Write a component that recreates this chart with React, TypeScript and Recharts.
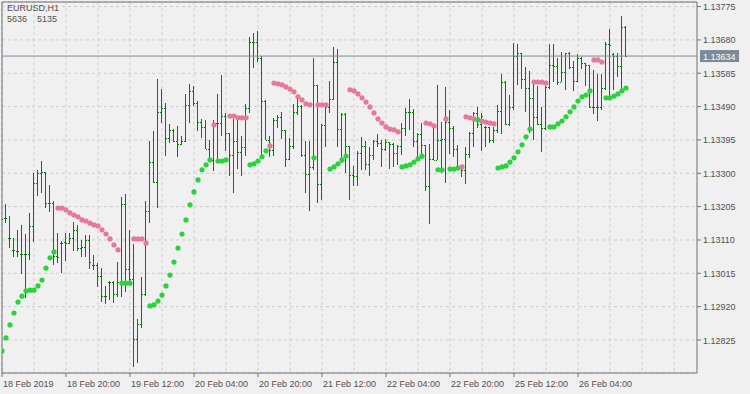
import React from 'react'
import { ComposedChart, Bar, Scatter, XAxis, YAxis, CartesianGrid, ReferenceLine, ReferenceArea } from 'recharts'

const symbol = 'EURUSD,H1'
const counters = ['5636', '5135']

const opens = [
  1.13173, 1.13173, 1.13116, 1.13082, 1.13079, 1.1307, 1.1307, 1.1307, 1.1315, 1.13272,
  1.13301, 1.13304, 1.13215, 1.13215, 1.13064, 1.13101, 1.13104, 1.13101, 1.13116, 1.13139,
  1.13087, 1.1309, 1.1311, 1.13039, 1.13039, 1.13007, 1.1295, 1.1299, 1.1299, 1.12956,
  1.12987, 1.13213, 1.13027, 1.12999, 1.12828, 1.12871, 1.12956, 1.13193, 1.13332, 1.13275,
  1.13475, 1.13486, 1.13401, 1.13424, 1.13392, 1.13384, 1.13392, 1.13495, 1.13535, 1.135,
  1.13446, 1.13432, 1.13369, 1.13338, 1.13443, 1.13443, 1.13463, 1.13415, 1.13352, 1.13392,
  1.13361, 1.13375, 1.13486, 1.13674, 1.13674, 1.13629, 1.13506, 1.13395, 1.13367, 1.13452,
  1.13461, 1.13424, 1.13341, 1.13378, 1.13475, 1.13492, 1.13352, 1.13298, 1.13318, 1.13552,
  1.1327, 1.13438, 1.13489, 1.13512, 1.13617, 1.13426, 1.13469, 1.13378, 1.13295, 1.13292,
  1.13358, 1.13378, 1.13327, 1.13352, 1.13392, 1.13386, 1.13369, 1.13389, 1.13384, 1.13358,
  1.13378, 1.13429, 1.13475, 1.13475, 1.13392, 1.13412, 1.13381, 1.13264, 1.13341, 1.13338,
  1.13395, 1.13398, 1.13446, 1.13429, 1.13369, 1.13315, 1.1331, 1.13355, 1.13415, 1.13472,
  1.13441, 1.13432, 1.13432, 1.13395, 1.13424, 1.13478, 1.1356, 1.13441, 1.13489, 1.13634,
  1.13643, 1.13569, 1.13543, 1.13515, 1.13461, 1.13441, 1.13429, 1.13546, 1.13609, 1.13606,
  1.1356, 1.13589, 1.13643, 1.13603, 1.13563, 1.13629, 1.13614, 1.13609, 1.13489, 1.13489,
  1.13489, 1.13543, 1.13669, 1.1364, 1.13634, 1.13606, 1.13717,
]

const highs = [
  1.1321, 1.13213, 1.13178, 1.13116, 1.13139, 1.13153, 1.13127, 1.13187, 1.13301, 1.1331,
  1.13335, 1.13304, 1.13267, 1.13221, 1.1313, 1.13107, 1.1313, 1.1313, 1.13161, 1.13153,
  1.1311, 1.13124, 1.13124, 1.13067, 1.13044, 1.1303, 1.12979, 1.12993, 1.12993, 1.13047,
  1.13233, 1.13241, 1.13139, 1.13099, 1.12885, 1.13005, 1.13221, 1.13392, 1.13421, 1.13569,
  1.1354, 1.135, 1.13441, 1.13426, 1.13435, 1.13406, 1.13526, 1.13555, 1.13549, 1.13506,
  1.13455, 1.13452, 1.13395, 1.13452, 1.13526, 1.1358, 1.13472, 1.13415, 1.13455, 1.13458,
  1.13406, 1.13498, 1.13689, 1.137, 1.13706, 1.13634, 1.13509, 1.13406, 1.13458, 1.13466,
  1.13475, 1.13424, 1.13401, 1.13498, 1.13512, 1.13495, 1.13392, 1.13392, 1.13629, 1.13552,
  1.13441, 1.13495, 1.13563, 1.1366, 1.13654, 1.13472, 1.13472, 1.13378, 1.13321, 1.13364,
  1.13404, 1.13392, 1.13375, 1.13395, 1.13412, 1.13395, 1.13398, 1.13389, 1.13386, 1.13381,
  1.13443, 1.13486, 1.13512, 1.13483, 1.13415, 1.13443, 1.13381, 1.13384, 1.13432, 1.13552,
  1.13446, 1.13546, 1.13481, 1.13435, 1.13381, 1.13318, 1.13375, 1.13418, 1.13475, 1.13489,
  1.13472, 1.13435, 1.13432, 1.13432, 1.13495, 1.13583, 1.13563, 1.13523, 1.13671, 1.13669,
  1.13643, 1.13603, 1.13592, 1.13563, 1.13549, 1.13489, 1.13549, 1.13669, 1.13669, 1.13629,
  1.13646, 1.13643, 1.13646, 1.1362, 1.1364, 1.13632, 1.13614, 1.13609, 1.13595, 1.13583,
  1.13583, 1.13674, 1.13711, 1.13643, 1.13643, 1.13748, 1.1372,
]

const lows = [
  1.13161, 1.13158, 1.13087, 1.13062, 1.13062, 1.13013, 1.12945, 1.13053, 1.13104, 1.13235,
  1.13244, 1.13201, 1.1319, 1.13039, 1.13044, 1.13016, 1.1305, 1.13099, 1.13079, 1.13079,
  1.13062, 1.13062, 1.13027, 1.13025, 1.12976, 1.12933, 1.12928, 1.12939, 1.1293, 1.12948,
  1.12948, 1.12962, 1.12982, 1.12748, 1.12759, 1.12859, 1.1295, 1.13158, 1.13272, 1.13201,
  1.13443, 1.13349, 1.13386, 1.13389, 1.13347, 1.13381, 1.13389, 1.13443, 1.13492, 1.13421,
  1.13401, 1.13369, 1.13335, 1.13307, 1.13332, 1.13406, 1.13364, 1.13292, 1.13244, 1.13312,
  1.13292, 1.13349, 1.13472, 1.136, 1.13617, 1.13349, 1.13395, 1.13347, 1.13349, 1.13429,
  1.13398, 1.13318, 1.13338, 1.13369, 1.13466, 1.13347, 1.13244, 1.13193, 1.1331, 1.13215,
  1.13224, 1.13375, 1.13472, 1.13509, 1.13375, 1.13329, 1.13301, 1.13224, 1.13264, 1.13264,
  1.1331, 1.1331, 1.13292, 1.13338, 1.13375, 1.13318, 1.13364, 1.13312, 1.13318, 1.13324,
  1.13352, 1.13406, 1.13424, 1.13375, 1.13347, 1.13341, 1.1325, 1.13156, 1.13338, 1.13338,
  1.13301, 1.13272, 1.13355, 1.13347, 1.1331, 1.1329, 1.1327, 1.13344, 1.13375, 1.13429,
  1.13364, 1.13375, 1.13386, 1.13386, 1.13415, 1.13412, 1.13438, 1.13435, 1.13481, 1.13552,
  1.1354, 1.13475, 1.13415, 1.13395, 1.13438, 1.13361, 1.13424, 1.1354, 1.1356, 1.13552,
  1.1356, 1.13538, 1.13597, 1.13535, 1.1356, 1.13597, 1.13549, 1.13486, 1.13469, 1.13449,
  1.13481, 1.13538, 1.13515, 1.13538, 1.13575, 1.13529, 1.13632,
]

const closes = [
  1.1317, 1.13173, 1.13116, 1.13082, 1.13079, 1.1307, 1.1307, 1.1315, 1.13272, 1.13301,
  1.13304, 1.13215, 1.13215, 1.13064, 1.13062, 1.13101, 1.13101, 1.13116, 1.13139, 1.13087,
  1.1309, 1.1311, 1.13047, 1.13039, 1.13007, 1.1295, 1.1295, 1.1299, 1.12956, 1.1299,
  1.13213, 1.13027, 1.12999, 1.12828, 1.12871, 1.12956, 1.13193, 1.13332, 1.13275, 1.13475,
  1.13486, 1.13401, 1.13424, 1.13392, 1.13384, 1.13392, 1.13495, 1.13535, 1.135, 1.13446,
  1.13432, 1.13369, 1.13338, 1.13443, 1.13443, 1.13463, 1.13415, 1.13352, 1.13392, 1.13361,
  1.13375, 1.13486, 1.13674, 1.13674, 1.13629, 1.13506, 1.13395, 1.13367, 1.13452, 1.13461,
  1.13424, 1.13341, 1.13378, 1.13475, 1.13492, 1.13352, 1.13298, 1.13318, 1.13552, 1.1327,
  1.13438, 1.13489, 1.13512, 1.13617, 1.13426, 1.13469, 1.13378, 1.13295, 1.13292, 1.13358,
  1.13378, 1.13327, 1.13352, 1.13392, 1.13386, 1.13369, 1.13389, 1.13384, 1.13358, 1.13378,
  1.13429, 1.13475, 1.13475, 1.13392, 1.13412, 1.13381, 1.13264, 1.13341, 1.13338, 1.13395,
  1.13398, 1.13446, 1.13429, 1.13369, 1.13315, 1.1331, 1.13355, 1.13415, 1.13472, 1.13441,
  1.13463, 1.13432, 1.13395, 1.13424, 1.13478, 1.1356, 1.13441, 1.13489, 1.13634, 1.13643,
  1.13569, 1.13543, 1.13515, 1.13461, 1.13441, 1.13429, 1.13546, 1.13609, 1.13606, 1.1356,
  1.13589, 1.13643, 1.13603, 1.13563, 1.13629, 1.13614, 1.13609, 1.13489, 1.13489, 1.13489,
  1.13543, 1.13669, 1.13666, 1.13634, 1.13606, 1.13717, 1.13634,
]

// parabolic SAR, one value per bar
const sar = [
  1.12794, 1.12831, 1.12868, 1.12902, 1.12933, 1.1295, 1.12965, 1.12967, 1.12967, 1.12979,
  1.12996, 1.1303, 1.13059, 1.13076, 1.13201, 1.13201, 1.13196, 1.13187, 1.13181, 1.13176,
  1.13167, 1.13164, 1.13158, 1.13153, 1.1315, 1.13139, 1.13127, 1.13113, 1.13096, 1.13082,
  1.12987, 1.12987, 1.12987, 1.13113, 1.13113, 1.13113, 1.13101, 1.12922, 1.12925, 1.12936,
  1.12953, 1.12979, 1.1301, 1.13047, 1.13087, 1.13127, 1.13167, 1.1321, 1.13247, 1.13281,
  1.1331, 1.13324, 1.13338, 1.13438, 1.13335, 1.13335, 1.13338, 1.13463, 1.13463, 1.13458,
  1.13458, 1.13458, 1.13324, 1.13327, 1.13335, 1.13347, 1.13364, 1.13378, 1.13557, 1.13555,
  1.13552, 1.13546, 1.1354, 1.13532, 1.13518, 1.13509, 1.13498, 1.13495, 1.13344, 1.13495,
  1.13495, 1.13495, 1.13312, 1.13318, 1.13327, 1.13338, 1.13349, 1.13538, 1.13535, 1.13526,
  1.13515, 1.13503, 1.13489, 1.13472, 1.13455, 1.13443, 1.13432, 1.13426, 1.13424, 1.13418,
  1.13318, 1.13321, 1.13324, 1.13332, 1.13341, 1.13349, 1.13443, 1.13441, 1.13435, 1.1331,
  1.1331, 1.13455, 1.13312, 1.13312, 1.13315, 1.13318, 1.13461, 1.13458, 1.13455, 1.13452,
  1.13449, 1.13446, 1.13443, 1.13441, 1.13315, 1.13318, 1.13321, 1.13332, 1.13344, 1.13361,
  1.13381, 1.13404, 1.13426, 1.1356, 1.1356, 1.1356, 1.13557, 1.13432, 1.13432, 1.13441,
  1.13449, 1.13461, 1.13475, 1.13489, 1.13506, 1.13518, 1.13523, 1.13535, 1.13623, 1.13623,
  1.13617, 1.13515, 1.13515, 1.1352, 1.13526, 1.13535, 1.13543,
]

const timeLabels = [
  '18 Feb 2019', '18 Feb 20:00', '19 Feb 12:00', '20 Feb 04:00', '20 Feb 20:00',
  '21 Feb 12:00', '22 Feb 04:00', '22 Feb 20:00', '25 Feb 12:00', '26 Feb 04:00',
]
const timeTicks = timeLabels.map((_, k) => k * 16)
const priceTicks = [1.12825, 1.1292, 1.13015, 1.1311, 1.13205, 1.133, 1.13395, 1.1349, 1.13585, 1.1368, 1.13775]

const xMax = 173.75
const yMin = 1.12731
const yMax = 1.13788
const lastPrice = closes[closes.length - 1]

const barColor = '#008000'
const font = '"Liberation Sans", Arial, sans-serif'
const textColor = '#505050'

const data = closes.map((close, i) => ({
  i,
  open: opens[i],
  high: highs[i],
  low: lows[i],
  close,
  sar: sar[i],
}))

const OhlcShape = (props: any) => {
  const { x, y, width, height, payload } = props
  if (!payload || y == null || height == null) return null
  const top = Math.min(y, y + height)
  const span = Math.abs(height)
  const cx = Math.round(x + width / 2 - 0.5)
  const range = payload.high - payload.low
  const toY = (p: number) => (range ? top + ((payload.high - p) / range) * span : top)
  const yo = Math.round(toY(payload.open))
  const yc = Math.round(toY(payload.close))
  return (
    <g fill={barColor} shapeRendering="crispEdges">
      <rect x={cx} y={Math.round(top)} width={1} height={Math.max(1, Math.round(span))} />
      <rect x={cx - 1} y={yo} width={1} height={1} />
      <rect x={cx + 1} y={yc} width={1} height={1} />
    </g>
  )
}

const SarDot = (props: any) => {
  const { cx, cy, payload } = props
  if (cx == null || cy == null) return null
  const above = payload.sar > (payload.high + payload.low) / 2
  return <circle cx={cx} cy={cy} r={2.6} fill={above ? '#e6789a' : '#2ad33c'} />
}

const TimeTick = ({ x, y, payload }: any) => (
  <text x={x + 1} y={y + 8} fill={textColor} fontSize={9} fontFamily={font} textAnchor="start">
    {timeLabels[timeTicks.indexOf(payload.value)]}
  </text>
)

const PriceTick = ({ x, y, payload }: any) => (
  <text x={x} y={y + 3.5} fill={textColor} fontSize={9} fontFamily={font} textAnchor="start">
    {Number(payload.value).toFixed(5)}
  </text>
)

const PriceLabel = ({ viewBox }: any) => {
  if (!viewBox) return null
  const right = viewBox.x + viewBox.width
  return (
    <g>
      <rect x={right + 3} y={viewBox.y - 6} width={39} height={12} fill="#7d8a97" />
      <text x={right + 6} y={viewBox.y + 3.5} fill="#ffffff" fontSize={9} fontFamily={font}>
        {lastPrice.toFixed(5)}
      </text>
    </g>
  )
}

const gridIdx = Array.from({ length: 22 }, (_, k) => k * 8)

export default function App() {
  return (
    <div style={{ position: 'absolute', left: 0, top: 0, width: 750, height: 394, background: '#f0f0f0' }}>
      <ComposedChart
        width={750}
        height={394}
        data={data}
        margin={{ top: 2, right: 0, bottom: 0, left: 2 }}
      >
        <CartesianGrid
          stroke="#cdcdcd"
          strokeDasharray="3 3"
          verticalCoordinatesGenerator={({ offset }: any) =>
            gridIdx.map((k) => (offset ? offset.left : 2) + (k * (offset ? offset.width : 695)) / xMax)
          }
        />
        <XAxis
          dataKey="i"
          type="number"
          domain={[0, xMax]}
          ticks={timeTicks}
          interval={0}
          height={21}
          tickSize={4}
          tickMargin={2}
          axisLine={false}
          tickLine={{ stroke: '#707070' }}
          tick={<TimeTick />}
          allowDataOverflow
        />
        <YAxis
          orientation="right"
          type="number"
          domain={[yMin, yMax]}
          ticks={priceTicks}
          interval={0}
          width={53}
          tickSize={4}
          tickMargin={2}
          axisLine={false}
          tickLine={{ stroke: '#707070' }}
          tick={<PriceTick />}
          allowDataOverflow
        />
        <ReferenceLine y={lastPrice} stroke="#848a92" strokeWidth={1} label={<PriceLabel />} />
        <Bar
          dataKey={(d: any) => [d.low, d.high]}
          barSize={1}
          shape={<OhlcShape />}
          isAnimationActive={false}
        />
        <Scatter dataKey="sar" shape={<SarDot />} isAnimationActive={false} />
        <ReferenceArea
          x1={0}
          x2={xMax}
          y1={yMin}
          y2={yMax}
          fill="none"
          stroke="#707070"
          strokeWidth={1}
          ifOverflow="visible"
        />
      </ComposedChart>
      <div
        style={{
          position: 'absolute',
          left: 7,
          top: 3,
          fontFamily: font,
          fontSize: 9,
          lineHeight: '11px',
          color: textColor,
        }}
      >
        <div>{symbol}</div>
        <div>
          {counters[0]}
          <span style={{ marginLeft: 10 }}>{counters[1]}</span>
        </div>
      </div>
    </div>
  )
}
